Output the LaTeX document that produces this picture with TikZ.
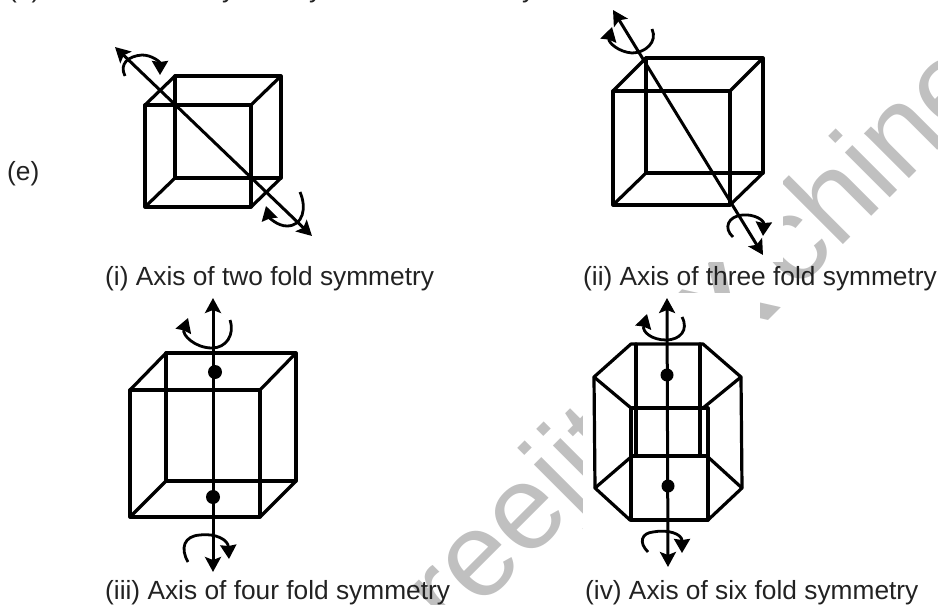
\documentclass[tikz,border=0pt]{standalone}
\usepackage{fontspec}
\setmainfont{Liberation Sans}
\usetikzlibrary{arrows.meta}
\definecolor{ink}{HTML}{222222}
\definecolor{wmgray}{HTML}{C0C0C0}
\tikzset{
  cubeedge/.style={line width=3.2pt,black,line cap=round,line join=round},
  axisboth/.style={line width=3pt,black,{Stealth[length=15pt,width=16pt,inset=3pt]}-{Stealth[length=15pt,width=16pt,inset=3pt]}},
  spin/.style={line width=2.8pt,black,-{Stealth[length=14pt,width=16pt,inset=1pt]}},
  dotm/.style={circle,fill=black,inner sep=0pt,minimum size=14pt},
  caption/.style={anchor=base west,inner sep=0pt,text=ink,font=\fontsize{26.3}{30}\selectfont},
  wmtext/.style={anchor=base west,inner sep=0pt,rotate=45,text=wmgray,font=\fontsize{120}{130}\selectfont}
}
\begin{document}
\begin{tikzpicture}[x=1pt,y=-1pt]
\clip (0,0) rectangle (938,605);
% watermark and the white boxes of the figures over it
\node[wmtext] (wma) at (451,638) {reejit};
\node[wmtext,font=\fontsize{120}{130}\selectfont\bfseries] (wmx) at (725,364) {X};
\node[wmtext] (wmb) at (795,293) {chine};
\fill[white] (570,0) rectangle (783,262);
\fill[white] (583,293) rectangle (760,562);
% cut-off line at the top edge
\node[caption] (t1) at (8,-2) {(d)};
\node[caption] (t2) at (222,-2) {y};
\node[caption] (t3) at (309,-2) {y};
\node[caption] (t4) at (522,-2) {y};
% cube i
\draw[cubeedge] (145,105) rectangle (251,207);
\draw[cubeedge] (175,76) rectangle (281,178);
\draw[cubeedge] (145,105)--(175,76) (251,105)--(281,76) (145,207)--(175,178) (251,207)--(281,178);
\draw[axisboth] (115,47)--(312,236);
\draw[spin] (125,76) .. controls (119,64) and (128,56) .. (142,55) .. controls (152,55) and (160,62) .. (160,75);
\draw[spin] (300,192) .. controls (307,208) and (303,226) .. (287,226) .. controls (277,226) and (269,217) .. (266,206);
% cube ii
\draw[cubeedge] (613,91) rectangle (730,205);
\draw[cubeedge] (646,58) rectangle (763,173);
\draw[cubeedge] (613,91)--(646,58) (730,91)--(763,58) (613,205)--(646,173) (730,205)--(763,173);
\draw[axisboth] (613,10)--(763,255);
\draw[spin] (652,29) .. controls (658,42) and (645,53) .. (632,53) .. controls (618,52) and (608,42) .. (612,27);
\draw[spin] (733,237) .. controls (723,228) and (728,216) .. (743,215) .. controls (754,214) and (764,220) .. (763,236);
% cube iii
\draw[cubeedge] (130,390) rectangle (260,517);
\draw[cubeedge] (166,353) rectangle (296,481);
\draw[cubeedge] (130,390)--(166,353) (260,390)--(296,353) (130,517)--(166,481) (260,517)--(296,481);
\draw[axisboth] (213,298)--(213,572);
\node[dotm] (d1) at (215,372) {};
\node[dotm] (d2) at (213,497) {};
\draw[spin] (230,320) .. controls (235,335) and (226,348) .. (212,348) .. controls (195,348) and (182,335) .. (188,318);
\draw[spin] (188,562) .. controls (180,548) and (184,536) .. (200,535) .. controls (216,533) and (228,540) .. (229,559);
% hexagon iv
\draw[cubeedge] (631,344)--(703,344)--(741,377)--(742,488)--(708,520)--(630,520)--(595,488)--(594,377)--cycle;
\draw[cubeedge] (631,408) rectangle (708,520);
\draw[cubeedge] (636,344)--(636,456) (700,344)--(700,456) (631,456)--(708,456);
\draw[cubeedge] (594,377)--(631,408) (741,377)--(703,408) (595,488)--(631,457) (742,488)--(708,457);
\draw[axisboth] (667,298)--(668,567);
\node[dotm,minimum size=13pt] (d3) at (667,375) {};
\node[dotm,minimum size=13pt] (d4) at (668,486) {};
\draw[spin] (682,317) .. controls (689,330) and (680,340) .. (666,340) .. controls (652,340) and (642,332) .. (647,314);
\draw[spin] (648,552) .. controls (638,542) and (642,533) .. (653,532) .. controls (668,529) and (682,534) .. (682,553);
% labels
\node[caption] (e) at (7,180) {(e)};
\node[caption] (c1) at (105,285) {(i) Axis of two fold symmetry};
\node[caption] (c2) at (583,285) {(ii) Axis of three fold symmetry};
\node[caption] (c3) at (105,599) {(iii) Axis of four fold symmetry};
\node[caption] (c4) at (585,599) {(iv) Axis of six fold symmetry};
\end{tikzpicture}
\end{document}
